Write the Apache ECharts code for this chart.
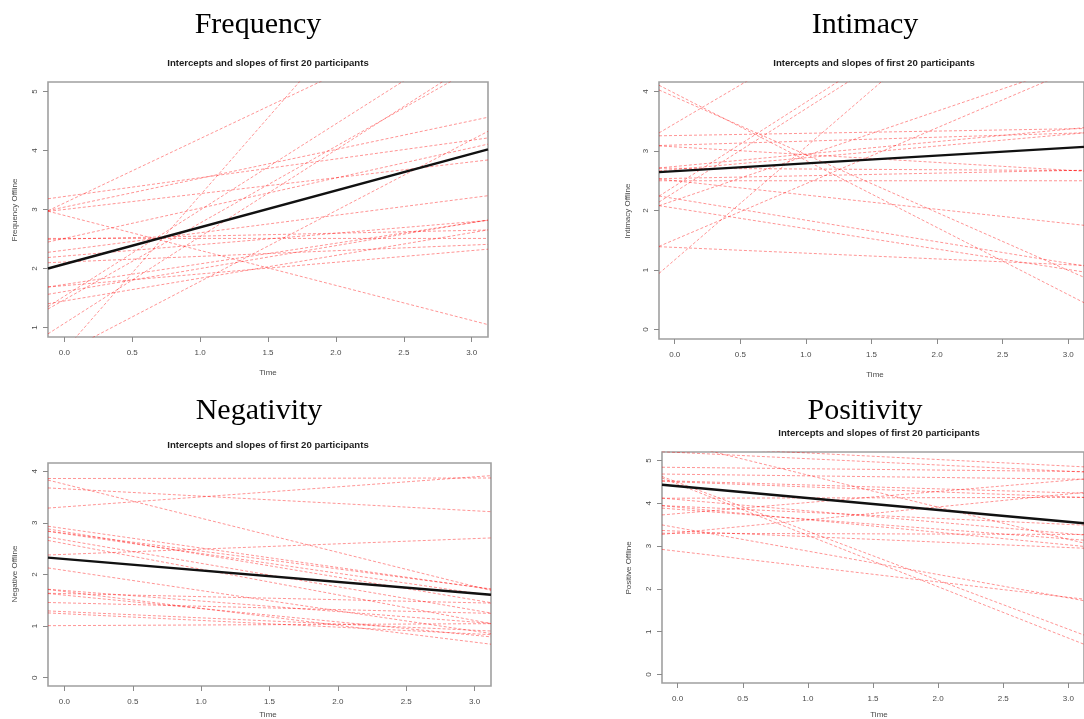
<!DOCTYPE html>
<html>
<head>
<meta charset="utf-8">
<script src="https://cdn.jsdelivr.net/npm/echarts@6/dist/echarts.min.js"></script>
<style>
  html, body { margin: 0; padding: 0; background: #ffffff; }
  #chart { width: 1084px; height: 719px; }
</style>
</head>
<body>
<div id="chart"></div>
<script>
// Time axis shared by all four panels
const timeRange = [-0.12, 3.12];
const timeTicks = [0, 0.5, 1, 1.5, 2, 2.5, 3];

// Frequency: per-participant intercepts and slopes, plus the average line
const freqIntercepts = [3.22, 3.11, 3.04, 2.90, 2.51, 2.51, 2.31, 2.21, 2.11, 1.71,
                        1.61, 1.45, 1.53, 1.47, 1.07, 0.61, 0.58, 2.50, 3.00, 1.73];
const freqSlopes     = [0.318, 1.09, 0.488, -0.593, 0.0, 0.512, 0.296, 0.194, 0.096, 0.198,
                        0.389, 0.386, 1.46, 1.30, 1.47, 2.63, 1.20, 0.049, 0.269, 0.349];
const freqMean = [2.075, 0.623];
const freqYRange = [0.84, 5.16];
const freqYTicks = [1, 2, 3, 4, 5];

// Intimacy
const intiIntercepts = [3.97, 3.91, 3.46, 3.26, 3.10, 2.71, 2.50, 2.50, 2.41, 2.20,
                        2.31, 2.04, 2.17, 1.51, 1.38, 1.17, 2.69, 3.07, 2.74, 2.54];
const intiSlopes     = [-1.128, -0.972, 1.30, 0.0375, 0.066, -0.0125, -0.24, 0.0, 1.41, -0.3625,
                        1.40, -0.344, 0.75, 0.94, -0.097, 1.90, 0.197, -0.131, 0.209, 0.044];
const intiMean = [2.66, 0.131];
const intiYRange = [-0.16, 4.16];
const intiYTicks = [0, 1, 2, 3, 4];

// Negativity
const negIntercepts = [3.86, 3.75, 3.66, 3.31, 2.89, 2.83, 2.79, 2.67, 2.60, 2.39,
                       2.08, 1.67, 1.63, 1.60, 1.45, 1.28, 1.24, 1.01, 2.80, 1.69];
const negSlopes     = [0.003, -0.660, -0.142, 0.194, -0.377, -0.441, -0.383, -0.454, -0.497, 0.102,
                       -0.392, -0.327, -0.059, -0.259, -0.065, -0.120, -0.130, 0.012, -0.346, -0.204];
const negMean = [2.30, -0.222];
const negYRange = [-0.16, 4.16];
const negYTicks = [0, 1, 2, 3, 4];

// Positivity
const posIntercepts = [5.33, 4.84, 4.49, 4.45, 5.41, 4.52, 4.50, 4.09, 3.91, 3.86,
                       3.76, 3.43, 3.35, 3.30, 3.31, 2.88, 4.68, 5.19, 3.93, 4.12];
const posSlopes     = [-0.153, -0.031, -1.144, -1.20, -0.75, -0.091, -0.116, -0.266, -0.294, -0.231,
                       0.259, -0.547, -0.128, -0.009, 0.303, -0.359, -0.0375, -0.147, -0.141, 0.006];
const posMean = [4.40, -0.278];
const posYRange = [-0.2, 5.2];
const posYTicks = [0, 1, 2, 3, 4, 5];

const subtitleText = 'Intercepts and slopes of first 20 participants';

const panels = [
  { title: 'Frequency', yName: 'Frequency Offline', a: freqIntercepts, b: freqSlopes, mean: freqMean,
    yRange: freqYRange, yTicks: freqYTicks,
    box: { left: 48, top: 82, width: 440, height: 255 },
    titleAt: [258, 25], subAt: [268, 63], yNameAt: [15, 210], timeAt: [268, 373] },
  { title: 'Intimacy', yName: 'Intimacy Offline', a: intiIntercepts, b: intiSlopes, mean: intiMean,
    yRange: intiYRange, yTicks: intiYTicks,
    box: { left: 659, top: 82, width: 429, height: 257 },
    titleAt: [865, 25], subAt: [874, 63], yNameAt: [628, 211], timeAt: [875, 375] },
  { title: 'Negativity', yName: 'Negative Offline', a: negIntercepts, b: negSlopes, mean: negMean,
    yRange: negYRange, yTicks: negYTicks,
    box: { left: 48, top: 463, width: 443, height: 223 },
    titleAt: [259, 411], subAt: [268, 445], yNameAt: [15, 574], timeAt: [268, 715] },
  { title: 'Positivity', yName: 'Positive Offline', a: posIntercepts, b: posSlopes, mean: posMean,
    yRange: posYRange, yTicks: posYTicks,
    box: { left: 662, top: 452, width: 432, height: 231 },
    titleAt: [865, 411], subAt: [879, 433], yNameAt: [629, 568], timeAt: [879, 715] }
];

// Straight line a + b*t across the whole time axis
function linePoints(a, b) {
  return [[timeRange[0], a + b * timeRange[0]], [timeRange[1], a + b * timeRange[1]]];
}

const tickLabelStyle = { color: '#4a4a4a', fontSize: 8, fontFamily: 'Liberation Sans' };

const grids = [], xAxes = [], yAxes = [], series = [], graphics = [];

panels.forEach(function (p, i) {
  grids.push(Object.assign({ show: true, borderColor: '#a0a0a0', borderWidth: 1.6,
    backgroundColor: 'transparent', containLabel: false }, p.box));

  xAxes.push({
    type: 'value', gridIndex: i, min: timeRange[0], max: timeRange[1],
    axisLine: { show: false, onZero: false },
    axisTick: { show: true, inside: false, length: 5, customValues: timeTicks,
                lineStyle: { color: '#8a8a8a', width: 1 } },
    axisLabel: Object.assign({ margin: 12, customValues: timeTicks,
                formatter: function (v) { return v.toFixed(1); } }, tickLabelStyle),
    splitLine: { show: false }
  });

  yAxes.push({
    type: 'value', gridIndex: i, min: p.yRange[0], max: p.yRange[1],
    axisLine: { show: false, onZero: false },
    axisTick: { show: true, inside: false, length: 5, customValues: p.yTicks,
                lineStyle: { color: '#8a8a8a', width: 1 } },
    axisLabel: Object.assign({ margin: 9, rotate: 90, customValues: p.yTicks,
                formatter: function (v) { return String(Math.round(v)); } }, tickLabelStyle),
    splitLine: { show: false }
  });

  p.a.forEach(function (a, k) {
    series.push({
      type: 'line', xAxisIndex: i, yAxisIndex: i, silent: true, clip: true,
      symbol: 'none', animation: false,
      data: linePoints(a, p.b[k]),
      lineStyle: { color: 'rgba(255,0,0,0.42)', width: 1, type: [3, 2] }
    });
  });

  series.push({
    type: 'line', xAxisIndex: i, yAxisIndex: i, silent: true, clip: true,
    symbol: 'none', animation: false, z: 5,
    data: linePoints(p.mean[0], p.mean[1]),
    lineStyle: { color: '#111111', width: 2.4, type: 'solid' }
  });

  graphics.push({ type: 'text', x: p.titleAt[0], y: p.titleAt[1],
    style: { text: p.title, font: '30px "Liberation Serif"', fill: '#000000',
             align: 'center', verticalAlign: 'middle' } });
  graphics.push({ type: 'text', x: p.subAt[0], y: p.subAt[1],
    style: { text: subtitleText, font: 'bold 9.6px "Liberation Sans"', fill: '#1e1e1e',
             align: 'center', verticalAlign: 'middle' } });
  graphics.push({ type: 'text', x: p.yNameAt[0], y: p.yNameAt[1], rotation: Math.PI / 2,
    style: { text: p.yName, font: '8px "Liberation Sans"', fill: '#4a4a4a',
             align: 'center', verticalAlign: 'middle' } });
  graphics.push({ type: 'text', x: p.timeAt[0], y: p.timeAt[1],
    style: { text: 'Time', font: '8px "Liberation Sans"', fill: '#4a4a4a',
             align: 'center', verticalAlign: 'middle' } });
});

const chart = echarts.init(document.getElementById('chart'), null, { renderer: 'canvas' });
chart.setOption({
  backgroundColor: '#ffffff',
  animation: false,
  grid: grids,
  xAxis: xAxes,
  yAxis: yAxes,
  series: series,
  graphic: { elements: graphics }
});
</script>
</body>
</html>
